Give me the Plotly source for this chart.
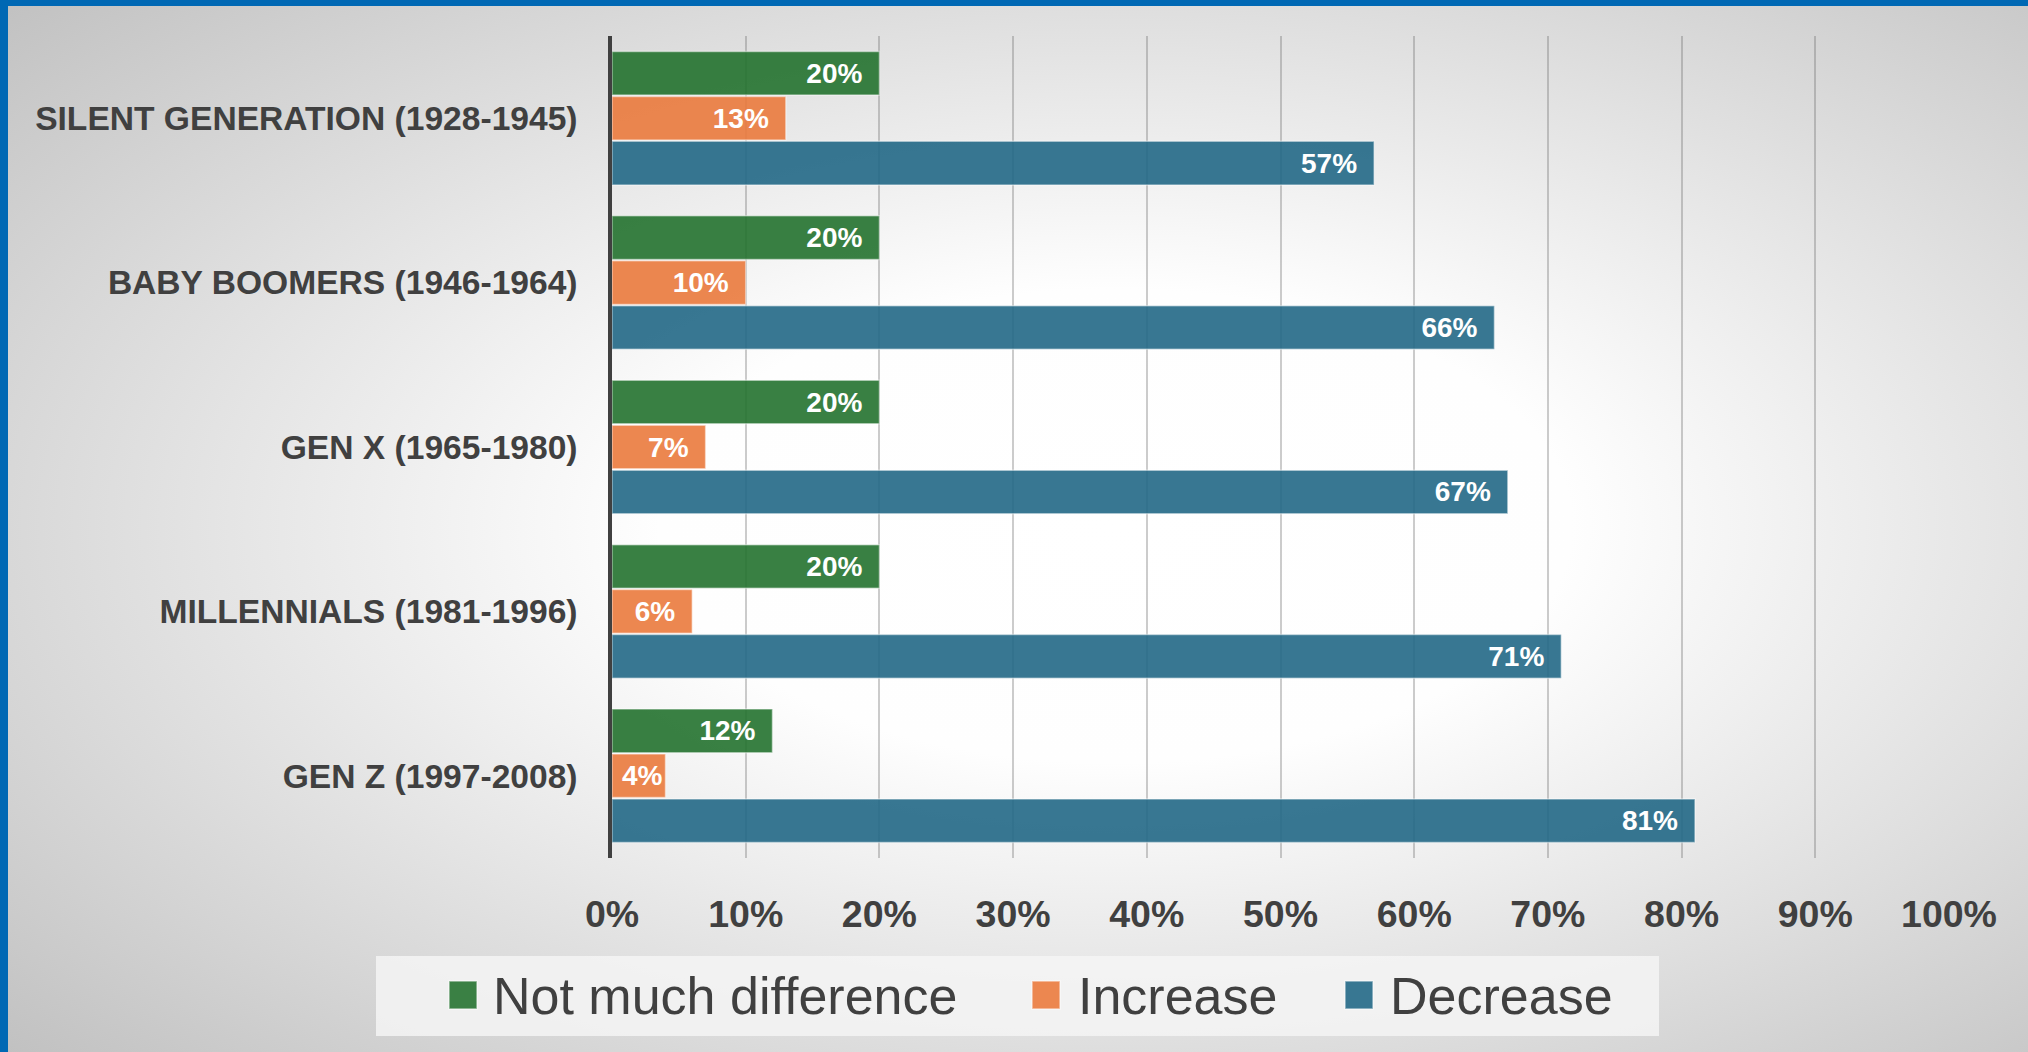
import base64
import plotly.graph_objects as go

# Survey data: share of respondents per generation
generations = [
    "SILENT GENERATION (1928-1945)",
    "BABY BOOMERS (1946-1964)",
    "GEN X (1965-1980)",
    "MILLENNIALS (1981-1996)",
    "GEN Z (1997-2008)",
]
series_names = ["Not much difference", "Increase", "Decrease"]
not_much_difference = [0.20, 0.20, 0.20, 0.20, 0.12]
increase = [0.13, 0.10, 0.07, 0.06, 0.04]
decrease = [0.57, 0.66, 0.67, 0.71, 0.81]
x_tick_values = [0, 0.1, 0.2, 0.3, 0.4, 0.5, 0.6, 0.7, 0.8, 0.9, 1.0]
x_tick_labels = ["0%", "10%", "20%", "30%", "40%", "50%", "60%", "70%", "80%", "90%", "100%"]

W, H = 2028, 1052
TEXT = "#404040"
FONT = "Liberation Sans, Arial, sans-serif"
fills = ["rgba(36,114,47,0.9)", "rgba(234,122,61,0.9)", "rgba(34,104,134,0.9)"]
solid = ["#3a8044", "#ec8750", "#387792"]


def px_x(v):
    return v / W


def px_y(v):
    return 1 - v / H


def label_templates(vals):
    # keep a little breathing room at the bar end, except on very short bars
    return ["%{x:.0%}\u2002" if v >= 0.06 else "%{x:.0%}" for v in vals]


fig = go.Figure()
for name, vals, col in zip(series_names, [not_much_difference, increase, decrease], fills):
    fig.add_trace(go.Bar(
        y=generations,
        x=vals,
        name=name,
        orientation="h",
        marker=dict(color=col, line=dict(color="rgba(255,255,255,0.45)", width=1.5)),
        texttemplate=label_templates(vals),
        textposition="inside",
        insidetextanchor="end",
        textangle=0,
        textfont=dict(family=FONT, size=28, color="white", weight="bold"),
        showlegend=False,
        hoverinfo="x+y+name",
    ))

# soft radial background
svg = (
    '<svg xmlns="http://www.w3.org/2000/svg" width="2028" height="1052" preserveAspectRatio="none">'
    '<defs><radialGradient id="g" cx="0.55" cy="0.5" r="0.75">'
    '<stop offset="0" stop-color="#ffffff"/>'
    '<stop offset="0.3" stop-color="#fefefe"/>'
    '<stop offset="1" stop-color="#c0c0c0"/>'
    '</radialGradient></defs>'
    '<rect width="2028" height="1052" fill="url(#g)"/></svg>'
)
bg_src = "data:image/svg+xml;base64," + base64.b64encode(svg.encode()).decode()

shapes = [
    # blue frame on the top and left edges
    dict(type="rect", xref="paper", yref="paper", x0=0, x1=1, y0=px_y(6), y1=1,
         fillcolor="#0068B4", line=dict(width=0), layer="above"),
    dict(type="rect", xref="paper", yref="paper", x0=0, x1=px_x(8), y0=0, y1=1,
         fillcolor="#0068B4", line=dict(width=0), layer="above"),
    # legend panel
    dict(type="rect", xref="paper", yref="paper", x0=px_x(376), x1=px_x(1659),
         y0=px_y(1036), y1=px_y(956), fillcolor="rgba(244,244,244,0.85)",
         line=dict(width=0), layer="below"),
]
annotations = []
legend_swatch_x = [449, 1032, 1345]
legend_text_x = [491, 1076, 1388]
for name, col, sx, tx in zip(series_names, solid, legend_swatch_x, legend_text_x):
    shapes.append(dict(type="rect", xref="paper", yref="paper",
                       x0=px_x(sx), x1=px_x(sx + 28), y0=px_y(1009), y1=px_y(981),
                       fillcolor=col, line=dict(color="rgba(255,255,255,0.55)", width=1.5)))
    annotations.append(dict(xref="paper", yref="paper", x=px_x(tx), y=px_y(996),
                            xanchor="left", yanchor="middle", text=name, showarrow=False,
                            font=dict(family=FONT, size=52, color=TEXT)))

fig.update_layout(
    width=W, height=H,
    margin=dict(l=0, r=0, t=0, b=0, autoexpand=False),
    paper_bgcolor="#e4e4e4",
    plot_bgcolor="rgba(0,0,0,0)",
    barmode="group",
    bargap=0.18,
    bargroupgap=0.03,
    uniformtext=dict(mode="show", minsize=28),
    images=[dict(source=bg_src, xref="paper", yref="paper", x=0, y=1, sizex=1, sizey=1,
                 xanchor="left", yanchor="top", sizing="stretch", layer="below")],
    shapes=shapes,
    annotations=annotations,
    xaxis=dict(
        domain=[px_x(612), px_x(1949)],
        range=[0, 1],
        tickvals=x_tick_values,
        ticktext=x_tick_labels,
        showgrid=True,
        gridcolor="rgba(110,110,110,0.35)",
        gridwidth=1.5,
        zeroline=False,
        showline=False,
        ticks="outside",
        ticklen=23,
        tickcolor="rgba(0,0,0,0)",
        tickfont=dict(family=FONT, size=37.5, color=TEXT, weight="bold"),
        automargin=False,
        fixedrange=True,
    ),
    yaxis=dict(
        domain=[px_y(858), px_y(36)],
        autorange="reversed",
        showgrid=False,
        showline=True,
        linecolor="#404040",
        linewidth=3.5,
        ticks="outside",
        ticklen=24,
        tickcolor="rgba(0,0,0,0)",
        tickfont=dict(family=FONT, size=33.6, color=TEXT, weight="bold"),
        automargin=False,
        fixedrange=True,
    ),
    showlegend=False,
)

fig.write_html("out.html")
